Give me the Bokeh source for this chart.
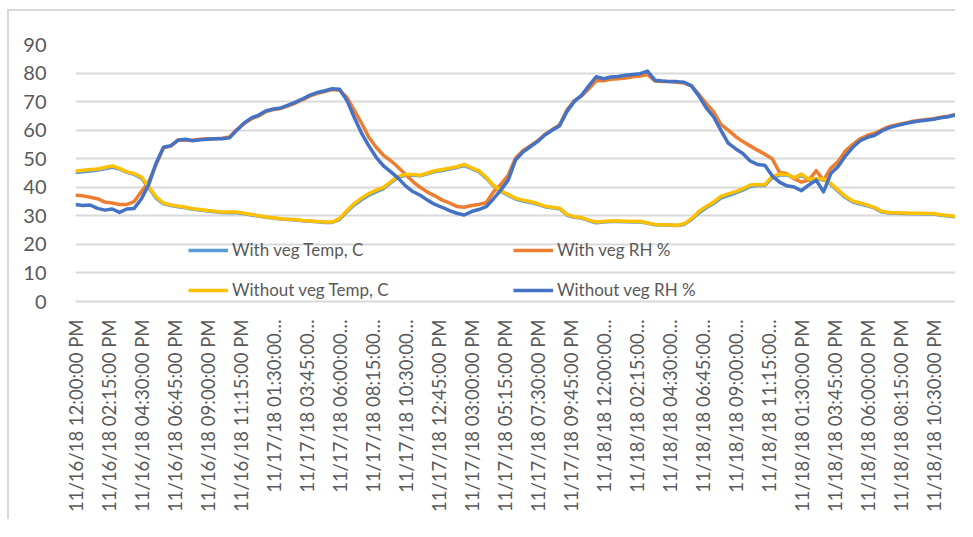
import math
from bokeh.plotting import figure
from bokeh.models import (Range1d, FixedTicker, Legend, LegendItem)
from bokeh.embed import file_html
from bokeh.resources import INLINE

# ---------------- data (hours after 11/16/18 12:00 PM, half-hour steps) ----------------
hours = [i * 0.5 for i in range(121)]

with_veg_temp = [
    45.2, 45.4, 45.7, 46.0, 46.5, 47.0, 46.4, 45.2, 44.5, 43.2,
    39.8, 36.2, 34.2, 33.6, 33.2, 32.8, 32.3, 32.0, 31.7, 31.4,
    31.2, 31.1, 31.1, 30.7, 30.3, 29.9, 29.5, 29.2, 28.9, 28.7,
    28.5, 28.3, 28.1, 27.9, 27.7, 27.7, 28.7, 31.4, 33.8, 35.6,
    37.2, 38.4, 39.5, 41.6, 43.5, 44.2, 44.2, 44.0, 44.7, 45.5,
    45.9, 46.4, 46.9, 47.6, 46.5, 45.5, 43.2, 40.4, 38.5, 37.2,
    35.9, 35.2, 34.7, 34.0, 33.2, 32.8, 32.5, 30.3, 29.5, 29.2,
    28.3, 27.6, 27.8, 28.0, 28.0, 27.9, 27.8, 27.9, 27.4, 26.9,
    26.8, 26.7, 26.6, 27.0, 28.7, 31.0, 32.8, 34.3, 36.2, 37.1,
    38.0, 39.0, 40.3, 40.6, 40.6, 43.3, 44.3, 44.4, 43.1, 44.2,
    42.5, 42.7, 42.8, 41.0, 38.6, 36.4, 34.8, 34.1, 33.5, 32.7,
    31.3, 31.0, 30.9, 30.8, 30.7, 30.7, 30.6, 30.6, 30.2, 29.9,
    29.7,
]

with_veg_rh = [
    37.2, 37.0, 36.5, 36.0, 34.8, 34.5, 34.0, 34.0, 35.0, 38.5,
    42.0, 48.0, 53.8, 54.4, 56.6, 56.5, 56.5, 56.8, 57.0, 57.0,
    57.2, 57.6, 60.2, 62.3, 64.0, 65.0, 66.5, 67.2, 67.6, 68.5,
    69.5, 70.7, 72.0, 72.9, 73.5, 74.2, 74.0, 71.5, 67.0, 62.5,
    57.5, 54.0, 51.2, 49.3, 47.0, 44.5, 42.0, 40.0, 38.3, 37.0,
    35.5, 34.5, 33.3, 33.0, 33.6, 34.0, 34.6, 38.4, 41.0, 44.2,
    50.2, 52.8, 54.5, 56.2, 58.5, 60.2, 61.8, 67.0, 70.3, 72.0,
    74.5, 77.3, 77.3, 77.8, 78.0, 78.3, 78.7, 79.0, 79.5, 77.2,
    77.0, 77.0, 76.8, 76.5, 75.5, 72.5, 69.4, 66.5, 62.0, 60.0,
    57.8, 56.0, 54.5, 53.0, 51.6, 50.0, 45.2, 44.8, 43.0, 41.8,
    42.5, 45.8, 42.5, 46.7, 49.0, 52.8, 55.0, 57.0, 58.2, 58.9,
    60.2, 61.3, 61.9, 62.4, 63.0, 63.4, 63.7, 64.0, 64.5, 64.9,
    65.5,
]

without_veg_temp = [
    45.7, 46.0, 46.2, 46.4, 46.9, 47.5, 46.6, 45.4, 44.8, 43.6,
    40.1, 36.6, 34.5, 33.8, 33.4, 33.0, 32.5, 32.2, 31.9, 31.6,
    31.3, 31.3, 31.3, 30.9, 30.5, 30.0, 29.6, 29.3, 29.0, 28.8,
    28.7, 28.4, 28.2, 28.0, 27.8, 27.8, 29.0, 31.8, 34.3, 36.2,
    37.8, 39.0, 40.0, 42.0, 43.8, 44.5, 44.5, 44.2, 45.0, 45.8,
    46.2, 46.7, 47.2, 48.0, 46.8, 45.8, 43.5, 40.7, 38.8, 37.5,
    36.2, 35.5, 35.0, 34.3, 33.4, 33.0, 32.7, 30.5, 29.7, 29.4,
    28.5, 27.8, 28.0, 28.2, 28.2, 28.1, 28.0, 28.1, 27.5, 27.0,
    26.9, 26.8, 26.7, 27.2, 29.0, 31.5, 33.3, 34.8, 36.8, 37.7,
    38.5, 39.5, 40.8, 41.0, 40.9, 43.8, 44.6, 44.6, 43.3, 44.6,
    42.8, 43.0, 43.0, 41.3, 39.0, 36.8, 35.2, 34.5, 33.8, 32.9,
    31.5, 31.2, 31.1, 31.0, 30.9, 30.9, 30.8, 30.8, 30.4, 30.1,
    29.8,
]

without_veg_rh = [
    34.0, 33.6, 33.8, 32.6, 32.0, 32.4, 31.2, 32.4, 32.6, 36.0,
    41.0, 48.5, 54.0, 54.6, 56.5, 56.8, 56.3, 56.6, 56.8, 57.0,
    57.0, 57.3, 60.0, 62.5, 64.3, 65.3, 66.8, 67.4, 67.8, 68.8,
    69.8, 71.0, 72.3, 73.2, 73.8, 74.5, 74.3, 70.5, 64.5, 59.0,
    54.5, 50.5, 47.5, 45.4, 43.2, 40.5, 38.5, 37.2, 35.5, 34.0,
    33.0, 31.8, 30.9, 30.3, 31.5, 32.2, 33.2, 36.0, 39.0, 42.5,
    49.5, 52.3, 54.2, 56.0, 58.3, 60.0, 61.5, 66.5, 70.0, 72.2,
    75.5, 78.7, 78.0, 78.6, 78.8, 79.2, 79.5, 79.8, 80.7, 77.5,
    77.2, 77.0, 77.0, 76.8, 75.5, 72.0, 67.8, 64.7, 60.0, 55.5,
    53.5, 51.8, 49.2, 48.0, 47.7, 44.0, 41.8, 40.5, 40.1, 38.8,
    40.8, 42.5, 38.4, 44.8, 47.3, 51.0, 54.0, 56.3, 57.5, 58.2,
    59.8, 60.9, 61.6, 62.2, 62.8, 63.2, 63.5, 63.8, 64.3, 64.7,
    65.3,
]

tick_labels = [
    "11/16/18 12:00:00 PM", "11/16/18 02:15:00 PM", "11/16/18 04:30:00 PM",
    "11/16/18 06:45:00 PM", "11/16/18 09:00:00 PM", "11/16/18 11:15:00 PM",
    "11/17/18 01:30:00…", "11/17/18 03:45:00…", "11/17/18 06:00:00…",
    "11/17/18 08:15:00…", "11/17/18 10:30:00…", "11/17/18 12:45:00 PM",
    "11/17/18 03:00:00 PM", "11/17/18 05:15:00 PM", "11/17/18 07:30:00 PM",
    "11/17/18 09:45:00 PM", "11/18/18 12:00:00…", "11/18/18 02:15:00…",
    "11/18/18 04:30:00…", "11/18/18 06:45:00…", "11/18/18 09:00:00…",
    "11/18/18 11:15:00…", "11/18/18 01:30:00 PM", "11/18/18 03:45:00 PM",
    "11/18/18 06:00:00 PM", "11/18/18 08:15:00 PM", "11/18/18 10:30:00 PM",
]
tick_step_hours = 2.25
y_ticks = [0, 10, 20, 30, 40, 50, 60, 70, 80, 90]

series_names = ["With veg Temp, C", "With veg RH %", "Without veg Temp, C", "Without veg RH %"]
series_colors = ["#5B9BD5", "#ED7D31", "#FFC000", "#4472C4"]

# ---------------- figure ----------------
FONT = "Lato"
TXT = "#595959"
GRID = "#d9d9d9"

p = figure(width=948, height=510, output_backend="svg", toolbar_location=None,
           x_range=Range1d(0, 60), y_range=Range1d(0, 90),
           min_border_left=66, min_border_right=2, min_border_top=33,
           min_border_bottom=220)
p.styles = {"margin-left": "7px", "margin-top": "9px",
            "border-top": "2px solid #d9d9d9", "border-left": "2px solid #d9d9d9"}
p.outline_line_color = None
p.background_fill_color = "white"
p.border_fill_color = "white"

x_tick_vals = [i * tick_step_hours for i in range(len(tick_labels))]
p.xaxis.ticker = FixedTicker(ticks=x_tick_vals)
p.xaxis.major_label_overrides = {v: lab for v, lab in zip(x_tick_vals, tick_labels)}
p.xaxis.major_label_orientation = math.pi / 2
p.xaxis.major_label_text_font = FONT
p.xaxis.major_label_text_font_size = "18.5px"
p.xaxis.major_label_text_color = TXT
p.xaxis.major_label_standoff = 12
p.xaxis.axis_line_color = GRID
p.xaxis.axis_line_width = 2
p.xaxis.major_tick_line_color = None
p.xaxis.minor_tick_line_color = None

p.yaxis.ticker = FixedTicker(ticks=y_ticks)
p.yaxis.major_label_text_font = FONT
p.yaxis.major_label_text_font_size = "20px"
p.yaxis.major_label_text_color = TXT
p.yaxis.major_label_standoff = 23
p.yaxis.axis_line_color = None
p.yaxis.major_tick_line_color = None
p.yaxis.minor_tick_line_color = None

p.xgrid.grid_line_color = None
p.ygrid.ticker = FixedTicker(ticks=y_ticks)
p.ygrid.grid_line_color = GRID
p.ygrid.grid_line_width = 2

all_series = [with_veg_temp, with_veg_rh, without_veg_temp, without_veg_rh]
renderers = []
for vals, col in zip(all_series, series_colors):
    r = p.line(hours, vals, line_color=col, line_width=3.5, line_join="round")
    renderers.append(r)

def make_legend(items, loc):
    lg = Legend(items=items, location=loc, orientation="vertical",
                label_text_font=FONT, label_text_font_size="17px",
                label_text_color=TXT, glyph_width=40, glyph_height=20,
                label_height=20, label_standoff=4, spacing=19, padding=0,
                margin=0, border_line_color=None, background_fill_alpha=0)
    p.add_layout(lg, "center")
    return lg

make_legend([LegendItem(label=series_names[0], renderers=[renderers[0]]),
             LegendItem(label=series_names[2], renderers=[renderers[2]])], (113, 1))
make_legend([LegendItem(label=series_names[1], renderers=[renderers[1]]),
             LegendItem(label=series_names[3], renderers=[renderers[3]])], (438, 1))

open("out.html", "w").write(file_html(p, INLINE))
